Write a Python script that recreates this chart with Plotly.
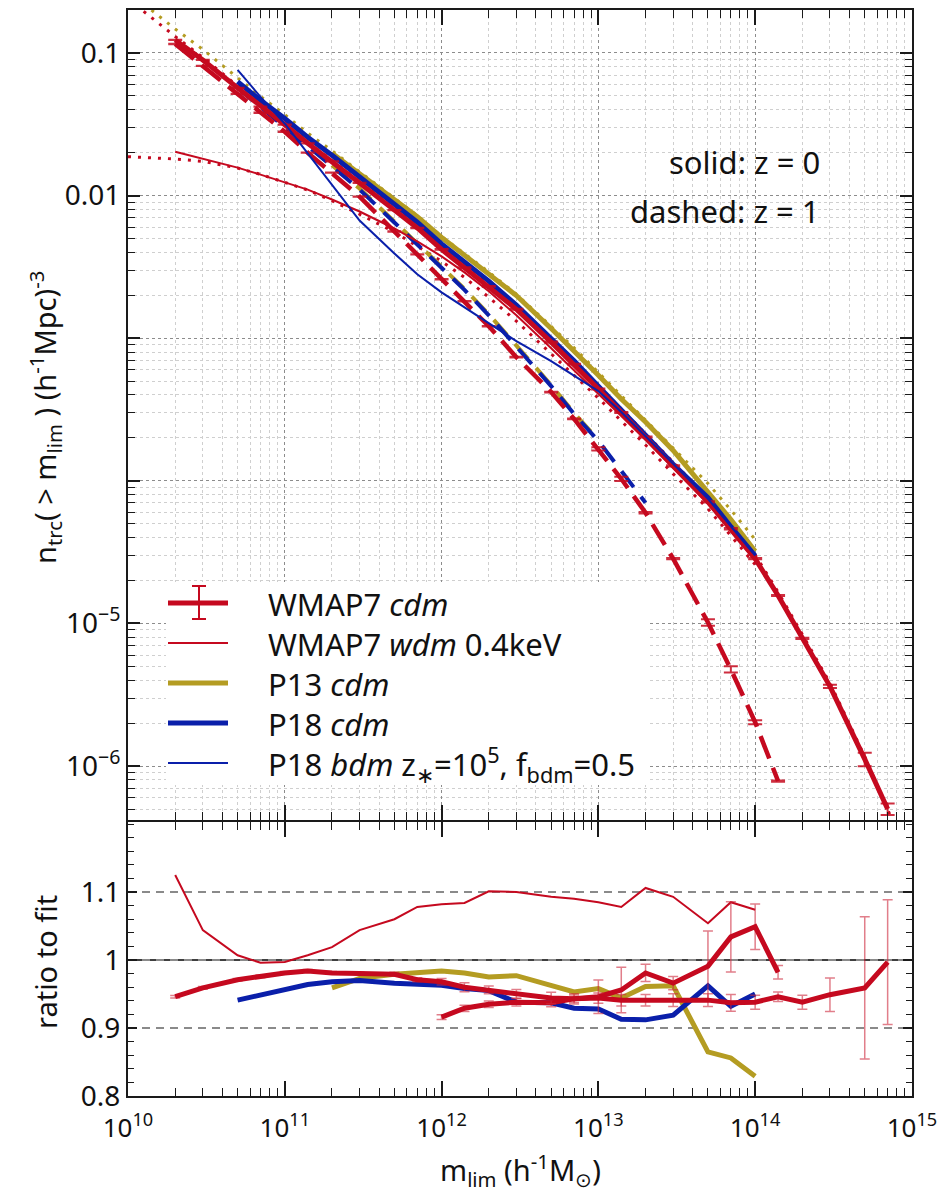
import plotly.graph_objects as go
from plotly.subplots import make_subplots

RED = "#C5091F"
OLIVE = "#B49C22"
BLUE = "#0A1FAA"
ERR_TOP = "rgba(197,9,31,0.85)"
ERR_BOT = "rgba(205,40,60,0.6)"
FONT = "Noto Sans"

# ---------------- data ----------------
mass = [2e10, 3e10, 5e10, 7e10, 1e11, 1.4e11, 2e11, 3e11, 5e11, 7e11,
        1e12, 1.4e12, 2e12, 3e12, 5e12, 7e12, 1e13, 1.4e13, 2e13, 3e13,
        5e13, 7e13, 1e14, 1.4e14, 2e14, 3e14, 5e14, 7e14]
mass_fit_lo = [1e10, 1.4e10]
mass_fit_hi = [1e15]

# WMAP7 cdm, z=0
n_w7_z0 = [0.1233, 0.0893, 0.0569, 0.04211, 0.03137, 0.02325, 0.01735, 0.01225, 0.007906, 0.005925,
           0.004192, 0.003116, 0.002310, 0.001595, 0.000938, 0.000658, 0.000440, 0.0003013, 0.0002031, 0.0001273,
           7.13e-5, 4.617e-5, 2.847e-5, 1.570e-5, 7.855e-6, 3.625e-6, 1.119e-6, 5.003e-7]
relerr_w7_z0 = [0.002, 0.002, 0.002, 0.002, 0.002, 0.002, 0.002, 0.002, 0.003, 0.003,
                0.005, 0.007, 0.006, 0.007, 0.009, 0.008, 0.008, 0.009, 0.009, 0.010,
                0.010, 0.013, 0.011, 0.0075, 0.011, 0.026, 0.109, 0.092]
# WMAP7 cdm fit, z=0
fit_w7 = [0.2393, 0.1782,
          0.1304, 0.0932, 0.05858, 0.04315, 0.03198, 0.02362, 0.01769, 0.01251, 0.008072, 0.006099,
          0.004329, 0.003244, 0.002416, 0.001680, 0.0009936, 0.0006984, 0.0004660, 0.0003202, 0.0002159, 0.0001353,
          7.579e-5, 4.923e-5, 3.038e-5, 1.661e-5, 8.375e-6, 3.823e-6, 1.167e-6, 5.02e-7,
          2.0e-7]
# WMAP7 cdm, z=1 (2e10 .. 1.4e14)
n_w7_z1 = [0.1156, 0.08111, 0.05167, 0.03805, 0.02803, 0.01998, 0.01448, 0.009840, 0.005601, 0.003867,
           0.002586, 0.001814, 0.001213, 0.0007364, 0.0004193, 0.0002714, 0.0001675, 0.0001033, 5.973e-5, 2.847e-5,
           1.016e-5, 4.767e-6, 2.031e-6, 7.855e-7]
relerr_w7_z1 = [0.003, 0.003, 0.003, 0.003, 0.003, 0.003, 0.003, 0.003, 0.003, 0.003,
                0.004, 0.005, 0.005, 0.006, 0.006, 0.006, 0.026, 0.035, 0.013, 0.010,
                0.052, 0.050, 0.032, 0.010]
# WMAP7 wdm 0.4 keV (2e10 .. 1e14) and its fit (1e10 .. 1e14)
n_wdm = [0.02031, 0.01815, 0.01570, 0.01402, 0.01233, 0.01101, 0.009376, 0.007729, 0.005876, 0.004768,
         0.003744, 0.002893, 0.002132, 0.001448, 0.0008514, 0.0005974, 0.0004124, 0.0002847, 0.0001935, 0.0001233,
         6.906e-5, 4.470e-5, 2.759e-5]
fit_wdm = [0.01874, 0.01843,
           0.01805, 0.01738, 0.01560, 0.01408, 0.01237, 0.01094, 0.009197, 0.007399, 0.005546, 0.004419,
           0.003460, 0.002671, 0.001935, 0.001317, 0.0007791, 0.0005477, 0.0003800, 0.0002628, 0.0001785, 0.0001119,
           6.371e-5, 4.124e-5, 2.586e-5]
# P13 cdm z=0 (2e11 .. 1e14), fit (1e10 .. 1e14), z=1 (2e11 .. 1e13)
n_p13_z0 = [0.01976, 0.01427, 0.009331, 0.007096, 0.005084, 0.003818, 0.002838, 0.001991, 0.001169, 0.0008164,
            0.0005502, 0.0003744, 0.0002586, 0.0001632, 8.286e-5, 5.346e-5, 3.209e-5]
fit_p13 = [0.2697, 0.1999,
           0.1472, 0.1058, 0.06697, 0.04955, 0.03690, 0.02740, 0.02061, 0.01467, 0.009528, 0.007235,
           0.005167, 0.003892, 0.002912, 0.002037, 0.001213, 0.0008568, 0.0005745, 0.0003968, 0.0002692, 0.0001696,
           9.575e-5, 6.249e-5, 3.875e-5]
n_p13_z1 = [0.01634, 0.01119, 0.006580, 0.004616, 0.003213, 0.002219, 0.001472, 0.0008933, 0.0004690, 0.0002988,
            0.0001935]
# P18 cdm z=0 (5e10 .. 1e14), z=1 (5e10 .. 2e13)
n_p18_z0 = [0.06299, 0.04654, 0.03466, 0.02565, 0.01919, 0.01353, 0.008651, 0.006496, 0.004585, 0.003400,
            0.002512, 0.001707, 0.001002, 0.0006940, 0.0004608, 0.0003100, 0.0002084, 0.0001306, 7.616e-5, 4.767e-5,
            2.984e-5]
n_p18_z1 = [0.05690, 0.04158, 0.03038, 0.02219, 0.01608, 0.01101, 0.006477, 0.004543, 0.003162, 0.002183,
            0.001448, 0.0008790, 0.0004616, 0.0002941, 0.0001904, 0.0001175, 7.018e-5]
# P18 bdm z*=1e5, f=0.5 (5e10 .. 1e14)
n_bdm = [0.07603, 0.04923, 0.03188, 0.01966, 0.01175, 0.006686, 0.003930, 0.002803, 0.002097, 0.001647,
         0.001273, 0.0009528, 0.0006907, 0.0005424, 0.0004259, 0.0003038, 0.0002064, 0.0001315, 7.482e-5, 4.767e-5,
         2.988e-5]

# ratios to fit
ratio_w7_z0 = [0.946, 0.959, 0.971, 0.976, 0.981, 0.984, 0.981, 0.980, 0.979, 0.971,
               0.968, 0.960, 0.956, 0.950, 0.944, 0.943, 0.944, 0.941, 0.941, 0.941,
               0.941, 0.937, 0.938, 0.946, 0.938, 0.949, 0.959, 0.997]
ratio_w7_z1 = [0.916, 0.929, 0.935, 0.938, 0.937, 0.943, 0.946, 0.956, 0.981, 0.966,
               0.991, 1.034, 1.049, 0.982]            # 1e12 .. 1.4e14
ratio_wdm = [1.125, 1.044, 1.007, 0.996, 0.997, 1.007, 1.019, 1.044, 1.060, 1.078,
             1.082, 1.084, 1.101, 1.100, 1.093, 1.090, 1.085, 1.078, 1.106, 1.093,
             1.054, 1.085, 1.074]                     # 2e10 .. 1e14
ratio_p13 = [0.959, 0.973, 0.979, 0.981, 0.984, 0.981, 0.975, 0.977, 0.963, 0.953,
             0.958, 0.944, 0.961, 0.962, 0.865, 0.856, 0.829]   # 2e11 .. 1e14
ratio_p18 = [0.941, 0.949, 0.957, 0.964, 0.968, 0.970, 0.966, 0.965, 0.963, 0.958,
             0.955, 0.938, 0.937, 0.929, 0.928, 0.913, 0.912, 0.919, 0.962, 0.932,
             0.950]                                   # 5e10 .. 1e14

tick_x = [1e10, 1e11, 1e12, 1e13, 1e14, 1e15]
tick_x_text = ["10<sup>10</sup>", "10<sup>11</sup>", "10<sup>12</sup>", "10<sup>13</sup>", "10<sup>14</sup>", "10<sup>15</sup>"]
tick_y_top = [0.1, 0.01, 1e-3, 1e-4, 1e-5, 1e-6]
tick_y_top_text = ["0.1", "0.01", "", "", "10<sup>\u22125</sup>", "10<sup>\u22126</sup>"]
tick_y_bot = [0.8, 0.9, 1.0, 1.1]
tick_y_bot_text = ["0.8", "0.9", "1", "1.1"]

# ---------------- figure ----------------
HPLOT = 1086.0
H_BOT = 274.0
MARG_L, MARG_R, MARG_T, MARG_B = 128, 26, 10, 99
fig = make_subplots(rows=2, cols=1, shared_xaxes=True, vertical_spacing=0)

m_fit_w7 = mass_fit_lo + mass + mass_fit_hi
m_fit_23 = mass_fit_lo + mass[:23]
DOT = "3px,7px"

def line(x, y, color, width, dash="solid", row=1, err=None, errcolor=None, errw=6, errt=2):
    tr = go.Scatter(x=x, y=y, mode="lines", showlegend=False, hoverinfo="skip",
                    line=dict(color=color, width=width, dash=dash))
    if err is not None:
        tr.error_y = dict(type="data", array=err, visible=True, color=errcolor,
                          thickness=errt, width=errw)
    fig.add_trace(tr, row=row, col=1)

# top panel: fits
line(m_fit_w7, fit_w7, RED, 3, DOT)
line(m_fit_23, fit_p13, OLIVE, 3, DOT)
line(m_fit_23, fit_wdm, RED, 3, DOT)
# z=1 dashed
line(mass[6:17], n_p13_z1, OLIVE, 4, "20px,12px")
line(mass[2:19], n_p18_z1, BLUE, 4, "20px,12px")
# z=0 planck
line(mass[6:23], n_p13_z0, OLIVE, 5)
line(mass[2:23], n_p18_z0, BLUE, 5)
# WMAP7 cdm
line(mass[:24], n_w7_z1, RED, 4.5, "24px,10px",
     err=[n * e for n, e in zip(n_w7_z1, relerr_w7_z1)], errcolor=ERR_TOP, errw=7, errt=2)
line(mass, n_w7_z0, RED, 5,
     err=[n * e for n, e in zip(n_w7_z0, relerr_w7_z0)], errcolor=ERR_TOP, errw=7, errt=2)
# thin lines
line(mass[:23], n_wdm, RED, 2)
line(mass[2:23], n_bdm, BLUE, 2)

# bottom panel: ratios
line(mass[:23], ratio_wdm, RED, 2, row=2)
line(mass[6:23], ratio_p13, OLIVE, 5, row=2)
line(mass[2:23], ratio_p18, BLUE, 5, row=2)
line(mass[10:24], ratio_w7_z1, RED, 5, row=2,
     err=[r * e for r, e in zip(ratio_w7_z1, relerr_w7_z1[10:24])], errcolor=ERR_BOT, errw=5, errt=1.5)
line(mass, ratio_w7_z0, RED, 5, row=2,
     err=[r * e for r, e in zip(ratio_w7_z0, relerr_w7_z0)], errcolor=ERR_BOT, errw=5, errt=1.5)

minor_x = [k * 10.0 ** e for e in range(10, 15) for k in range(2, 10)]
minor_y = [k * 10.0 ** e for e in range(-7, 0) for k in range(2, 10)]

ax_common = dict(showline=True, linecolor="#1a1a1a", linewidth=2, mirror="allticks",
                 ticks="inside", tickcolor="#1a1a1a", tickwidth=1.5, zeroline=False,
                 automargin=False, tickfont=dict(family=FONT, size=28, color="#111"))

fig.update_xaxes(type="log", range=[10, 15.0004], tickmode="array", tickvals=tick_x, ticktext=tick_x_text,
                 ticklen=15, **ax_common)
fig.update_xaxes(row=1, col=1, showticklabels=False, showgrid=True, gridcolor="#8c8c8c",
                 griddash="dot", gridwidth=1,
                 minor=dict(tickmode="array", tickvals=minor_x, ticks="inside", ticklen=8,
                            tickwidth=1.2, tickcolor="#1a1a1a", showgrid=True,
                            gridcolor="#cfcfcf", griddash="dot", gridwidth=1))
fig.update_xaxes(row=2, col=1, showgrid=False, ticklabelstandoff=8, ticklabeloverflow="allow",
                 tickfont=dict(family=FONT, size=26, color="#111"),
                 minor=dict(tickmode="array", tickvals=minor_x, ticks="inside", ticklen=8,
                            tickwidth=1.2, tickcolor="#1a1a1a", showgrid=False))

fig.update_yaxes(row=1, col=1, type="log", range=[-6.378, -0.699], tickmode="array",
                 tickvals=tick_y_top, ticktext=tick_y_top_text, ticklen=12,
                 domain=[(H_BOT + 2) / HPLOT, 1.0],
                 showgrid=True, gridcolor="#8c8c8c", griddash="dot", gridwidth=1,
                 minor=dict(tickmode="array", tickvals=minor_y, ticks="inside", ticklen=7,
                            tickwidth=1.2, tickcolor="#1a1a1a", showgrid=True,
                            gridcolor="#cfcfcf", griddash="dot", gridwidth=1),
                 **ax_common)
fig.update_yaxes(row=2, col=1, range=[0.8, 1.203], tickmode="array",
                 tickvals=tick_y_bot, ticktext=tick_y_bot_text, ticklen=9, showgrid=False,
                 domain=[0.0, H_BOT / HPLOT],
                 minor=dict(dtick=0.02, tick0=0.8, ticks="inside", ticklen=6, tickwidth=1.2,
                            tickcolor="#1a1a1a", showgrid=False),
                 **ax_common)

# reference lines in ratio panel
shapes = []
for yv in (1.1, 0.9):
    shapes.append(dict(type="line", xref="x2 domain", yref="y2", x0=0, x1=1, y0=yv, y1=yv,
                       line=dict(color="#8a8a8a", width=2, dash="8px,6px"), layer="below"))
shapes.append(dict(type="line", xref="x2 domain", yref="y2", x0=0, x1=1, y0=1.0, y1=1.0,
                   line=dict(color="#000000", width=1.5), layer="below"))
shapes.append(dict(type="line", xref="x2 domain", yref="y2", x0=0, x1=1, y0=1.0, y1=1.0,
                   line=dict(color="#8a8a8a", width=2, dash="8px,6px"), layer="below"))

# ---------------- manual legend ----------------
W = 938.0 - MARG_L - MARG_R
L, B_ = float(MARG_L), float(MARG_B)
def px(x):
    return (x - L) / W
def py(y):
    return (1195.0 - B_ - y) / HPLOT

shapes.append(dict(type="rect", xref="paper", yref="paper", x0=px(166), x1=px(648), y0=py(785), y1=py(582),
                   fillcolor="white", line=dict(width=0), layer="above"))
leg_rows = [603, 643, 683, 723, 763]
leg_style = [(RED, 5), (RED, 2), (OLIVE, 5), (BLUE, 5), (BLUE, 2)]
leg_text = ["WMAP7 <i>cdm</i>",
            "WMAP7 <i>wdm</i> 0.4keV",
            "P13 <i>cdm</i>",
            "P18 <i>cdm</i>",
            "P18 <i>bdm</i> z<sub>\u2217</sub>=10<sup>5</sup>, f<sub>bdm</sub>=0.5"]
for yrow, (c, w) in zip(leg_rows, leg_style):
    shapes.append(dict(type="line", xref="paper", yref="paper", x0=px(168), x1=px(228),
                       y0=py(yrow), y1=py(yrow), line=dict(color=c, width=w), layer="above"))
# error-bar glyph for WMAP7 cdm
ex = 199
shapes.append(dict(type="line", xref="paper", yref="paper", x0=px(ex), x1=px(ex), y0=py(586), y1=py(619),
                   line=dict(color=RED, width=2), layer="above"))
for yc in (586, 619):
    shapes.append(dict(type="line", xref="paper", yref="paper", x0=px(ex - 7), x1=px(ex + 7), y0=py(yc), y1=py(yc),
                       line=dict(color=RED, width=2), layer="above"))

annotations = []
for yrow, t in zip(leg_rows, leg_text):
    annotations.append(dict(xref="paper", yref="paper", x=px(266), y=py(yrow + 1), text=t, showarrow=False,
                            xanchor="left", yanchor="middle", font=dict(family=FONT, size=31, color="#111")))
annotations.append(dict(xref="paper", yref="paper", x=px(822), y=py(162), text="solid: z = 0", showarrow=False,
                        xanchor="right", yanchor="middle", font=dict(family=FONT, size=31, color="#111")))
annotations.append(dict(xref="paper", yref="paper", x=px(822), y=py(211), text="dashed: z = 1", showarrow=False,
                        xanchor="right", yanchor="middle", font=dict(family=FONT, size=31, color="#111")))
# axis titles
annotations.append(dict(xref="paper", yref="paper", x=px(45), y=py(418), textangle=-90,
                        text="n<sub>trc</sub>( > m<sub>lim</sub> ) (h<sup>-1</sup>Mpc)<sup>-3</sup>",
                        showarrow=False, xanchor="center", yanchor="middle",
                        font=dict(family=FONT, size=29, color="#111")))
annotations.append(dict(xref="paper", yref="paper", x=px(45), y=py(962), textangle=-90,
                        text="ratio to fit", showarrow=False, xanchor="center", yanchor="middle",
                        font=dict(family=FONT, size=29, color="#111")))
annotations.append(dict(xref="paper", yref="paper", x=px(520), y=py(1170),
                        text="m<sub>lim</sub> (h<sup>-1</sup>M<sub>\u2299</sub>)", showarrow=False,
                        xanchor="center", yanchor="middle", font=dict(family=FONT, size=29, color="#111")))

fig.update_layout(width=938, height=1195,
                  margin=dict(l=MARG_L, r=MARG_R, t=MARG_T, b=MARG_B, autoexpand=False),
                  paper_bgcolor="white", plot_bgcolor="white", showlegend=False,
                  shapes=shapes, annotations=annotations,
                  font=dict(family=FONT, color="#111"))

fig.write_html("out.html")
